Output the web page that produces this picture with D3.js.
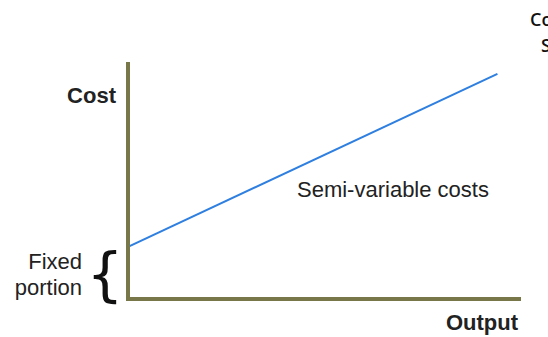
<!DOCTYPE html>
<html>
<head>
<meta charset="utf-8">
<script src="https://cdn.jsdelivr.net/npm/d3@7"></script>
<style>
  body { margin: 0; background: #fff; }
</style>
</head>
<body>
<div id="chart"></div>
<script>
// data
var outputs = [0, 94];
var costs = [22, 95];
var fixedCost = 22;

var width = 548, height = 337;

var svg = d3.select("#chart")
  .append("svg")
    .attr("width", width)
    .attr("height", height);

var x = d3.scaleLinear().domain([0, 100]).range([128, 521]);
var y = d3.scaleLinear().domain([0, 100]).range([299, 62]);

// line
var pts = outputs.map(function(d, i) { return [d, costs[i]]; });
svg.append("path")
  .datum(pts)
  .attr("fill", "none")
  .attr("stroke", "#2e7fe0")
  .attr("stroke-width", 2)
  .attr("d", d3.line()
    .x(function(d) { return x(d[0]); })
    .y(function(d) { return y(d[1]); }));

// axes (plain lines, no ticks)
var axisColor = "#77774a";
svg.append("line")
  .attr("x1", x(0)).attr("x2", x(0))
  .attr("y1", y(100)).attr("y2", y(0) + 2)
  .attr("stroke", axisColor).attr("stroke-width", 4);
svg.append("line")
  .attr("x1", x(0) - 2).attr("x2", x(100))
  .attr("y1", y(0)).attr("y2", y(0))
  .attr("stroke", axisColor).attr("stroke-width", 4);

var font = "Liberation Sans, Arial, sans-serif";

// labels
svg.append("text")
  .attr("x", 116).attr("y", 103)
  .attr("text-anchor", "end")
  .attr("font-family", font)
  .attr("font-weight", "bold")
  .attr("font-size", "22px")
  .attr("fill", "#222")
  .text("Cost");

svg.append("text")
  .attr("x", 518).attr("y", 330)
  .attr("text-anchor", "end")
  .attr("font-family", font)
  .attr("font-weight", "bold")
  .attr("font-size", "22px")
  .attr("fill", "#222")
  .text("Output");

svg.append("text")
  .attr("x", 297).attr("y", 197)
  .attr("font-family", font)
  .attr("font-size", "22px")
  .attr("fill", "#222")
  .text("Semi-variable costs");

svg.append("text")
  .attr("x", 82).attr("y", 269)
  .attr("text-anchor", "end")
  .attr("font-family", font)
  .attr("font-size", "22px")
  .attr("fill", "#222")
  .text("Fixed");
svg.append("text")
  .attr("x", 82).attr("y", 295)
  .attr("text-anchor", "end")
  .attr("font-family", font)
  .attr("font-size", "22px")
  .attr("fill", "#222")
  .text("portion");

// brace spanning the fixed portion
var bTop = y(fixedCost), bBot = y(0);
svg.append("text")
  .attr("x", 105).attr("y", (bTop + bBot) / 2 + 2)
  .attr("text-anchor", "middle")
  .attr("dominant-baseline", "central")
  .attr("font-family", "DejaVu Sans, sans-serif")
  .attr("font-size", "58px")
  .attr("fill", "#111")
  .text("{");

// cropped text top-right
svg.append("text")
  .attr("x", 530).attr("y", 26)
  .attr("font-family", "Open Sans, sans-serif")
  .attr("font-weight", 600)
  .attr("font-size", "18px")
  .attr("fill", "#111")
  .text("Co");
svg.append("text")
  .attr("x", 541).attr("y", 52)
  .attr("font-family", "Open Sans, sans-serif")
  .attr("font-weight", 600)
  .attr("font-size", "18px")
  .attr("fill", "#111")
  .text("S");
</script>
</body>
</html>
